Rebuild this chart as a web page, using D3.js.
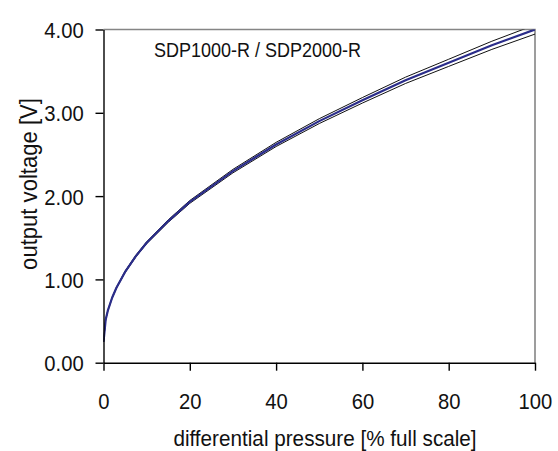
<!DOCTYPE html>
<html>
<head>
<meta charset="utf-8">
<script src="https://cdn.jsdelivr.net/npm/d3@7"></script>
<style>
  body { margin: 0; background: #fff; }
  svg { display: block; }
  text { font-family: "Liberation Sans", Arial, sans-serif; fill: #111; }
</style>
</head>
<body>
<div id="chart"></div>
<script>
// values
let pressure = [0, 0.5, 1, 2, 3, 5, 7.5, 10, 15, 20, 30, 40, 50, 60, 70, 80, 90, 100]
let voltage  = [0.25, 0.515, 0.625, 0.78, 0.90, 1.09, 1.28, 1.44, 1.70, 1.93, 2.30, 2.62, 2.90, 3.15, 3.39, 3.60, 3.81, 4.00]
let upper    = [0.25, 0.517, 0.629, 0.786, 0.907, 1.10, 1.291, 1.452, 1.715, 1.947, 2.321, 2.645, 2.929, 3.183, 3.428, 3.643, 3.859, 4.055]
let lower    = [0.25, 0.513, 0.621, 0.774, 0.893, 1.08, 1.269, 1.428, 1.685, 1.913, 2.279, 2.595, 2.871, 3.117, 3.352, 3.557, 3.761, 3.945]
let xTicks   = [0, 20, 40, 60, 80, 100]
let yTicks   = [0, 1, 2, 3, 4]

let width = 558,
    height = 451,
    margin = {left: 103.5, top: 29.5, right: 23, bottom: 88.3}

let svg = d3.select('#chart').append('svg')
    .attr('width', width)
    .attr('height', height)

let x = d3.scaleLinear().domain([0, 100]).range([margin.left, width - margin.right])
let y = d3.scaleLinear().domain([0, 4]).range([height - margin.bottom, margin.top])

svg.append('defs').append('clipPath')
    .attr('id', 'plot')
    .append('rect')
    .attr('x', margin.left)
    .attr('y', margin.top)
    .attr('width', x(100) - margin.left)
    .attr('height', y(0) - margin.top)

// grey frame on top and right
svg.append('path')
    .attr('d', 'M' + x(0) + ',' + y(4) + 'H' + x(100) + 'V' + y(0))
    .attr('fill', 'none')
    .attr('stroke', '#858585')
    .attr('stroke-width', 1.6)

let line = d3.line()
    .x(function(d){ return x(d[0]) })
    .y(function(d){ return y(d[1]) })

let curves = svg.append('g').attr('clip-path', 'url(#plot)')

curves.append('path')
    .datum(d3.zip(pressure, upper))
    .attr('d', line)
    .attr('fill', 'none')
    .attr('stroke', '#111')
    .attr('stroke-width', 1)

curves.append('path')
    .datum(d3.zip(pressure, lower))
    .attr('d', line)
    .attr('fill', 'none')
    .attr('stroke', '#111')
    .attr('stroke-width', 1)

curves.append('path')
    .datum(d3.zip(pressure, voltage))
    .attr('d', line)
    .attr('fill', 'none')
    .attr('stroke', '#2b2d8a')
    .attr('stroke-width', 2.2)
    .attr('stroke-linejoin', 'round')

// axes
let xAxis = svg.append('g')
    .attr('transform', 'translate(0,' + y(0) + ')')
    .call(d3.axisBottom(x).tickValues(xTicks).tickSize(8).tickSizeOuter(0).tickPadding(22.7))

let yAxis = svg.append('g')
    .attr('transform', 'translate(' + x(0) + ',0)')
    .call(d3.axisLeft(y).tickValues(yTicks).tickFormat(d3.format('.2f')).tickSize(8).tickSizeOuter(0).tickPadding(13.5))

svg.selectAll('.domain, .tick line')
    .attr('stroke', '#000')
    .attr('stroke-width', 1.4)

xAxis.selectAll('text')
    .attr('font-size', 22)
    .attr('fill', '#111')
    .attr('transform', 'scale(0.92,1)')

yAxis.selectAll('text')
    .attr('font-size', 22)
    .attr('fill', '#111')
    .attr('dy', '0.37em')
    .attr('transform', 'scale(0.92,1)')

// titles
svg.append('text')
    .attr('transform', 'translate(325,445.7) scale(0.92,1)')
    .attr('text-anchor', 'middle')
    .attr('font-size', 22.5)
    .text('differential pressure [% full scale]')

svg.append('text')
    .attr('transform', 'translate(37,184) rotate(-90) scale(0.92,1)')
    .attr('text-anchor', 'middle')
    .attr('font-size', 24)
    .text('output voltage [V]')

svg.append('text')
    .attr('transform', 'translate(154,56.5) scale(0.9,1)')
    .attr('font-size', 20)
    .text('SDP1000-R / SDP2000-R')
</script>
</body>
</html>
